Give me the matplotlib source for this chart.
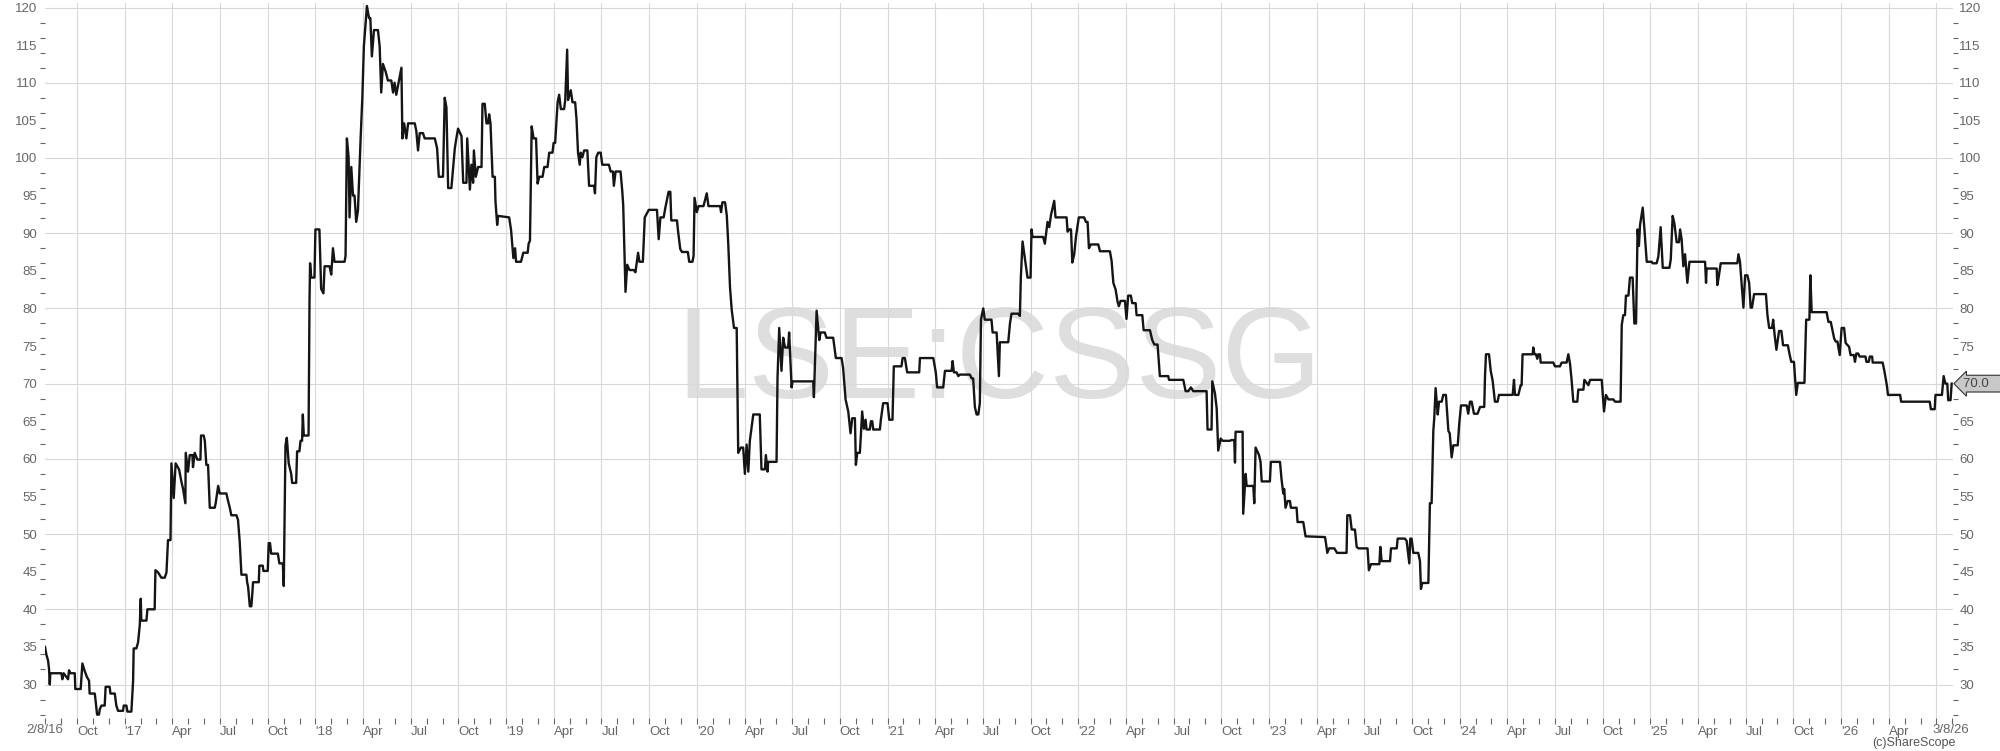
import numpy as np
import matplotlib
matplotlib.use("Agg")
import matplotlib.pyplot as plt
import matplotlib.transforms as mtransforms

# Share price, LSE:CSSG (decimal year, pence)
years = [
    2016.582, 2016.589, 2016.598, 2016.603, 2016.607, 2016.610, 2016.668, 2016.673, 2016.680, 2016.703,
    2016.708, 2016.715, 2016.738, 2016.741, 2016.769, 2016.778, 2016.790, 2016.802, 2016.813, 2016.816,
    2016.843, 2016.848, 2016.855, 2016.865, 2016.869, 2016.878, 2016.895, 2016.900, 2016.921, 2016.925,
    2016.948, 2016.956, 2016.965, 2016.991, 2016.995, 2017.009, 2017.014, 2017.035, 2017.044, 2017.047,
    2017.061, 2017.070, 2017.079, 2017.084, 2017.087, 2017.114, 2017.119, 2017.157, 2017.161, 2017.175,
    2017.192, 2017.210, 2017.219, 2017.227, 2017.240, 2017.245, 2017.257, 2017.267, 2017.285, 2017.297,
    2017.306, 2017.318, 2017.320, 2017.332, 2017.341, 2017.355, 2017.358, 2017.367, 2017.381, 2017.397,
    2017.400, 2017.414, 2017.420, 2017.428, 2017.437, 2017.446, 2017.472, 2017.477, 2017.490, 2017.498,
    2017.533, 2017.542, 2017.551, 2017.559, 2017.586, 2017.594, 2017.603, 2017.612, 2017.638, 2017.642,
    2017.647, 2017.656, 2017.664, 2017.668, 2017.673, 2017.703, 2017.706, 2017.724, 2017.727, 2017.750,
    2017.755, 2017.762, 2017.768, 2017.803, 2017.811, 2017.829, 2017.834, 2017.843, 2017.850, 2017.860,
    2017.873, 2017.878, 2017.899, 2017.904, 2017.916, 2017.922, 2017.930, 2017.934, 2017.939, 2017.964,
    2017.969, 2017.972, 2017.978, 2017.995, 2018.000, 2018.021, 2018.030, 2018.042, 2018.048, 2018.074,
    2018.083, 2018.092, 2018.100, 2018.153, 2018.158, 2018.165, 2018.174, 2018.179, 2018.188, 2018.197,
    2018.205, 2018.214, 2018.223, 2018.237, 2018.246, 2018.254, 2018.270, 2018.281, 2018.288, 2018.296,
    2018.307, 2018.328, 2018.337, 2018.345, 2018.354, 2018.368, 2018.380, 2018.398, 2018.407, 2018.415,
    2018.424, 2018.451, 2018.456, 2018.465, 2018.477, 2018.486, 2018.521, 2018.529, 2018.538, 2018.547,
    2018.564, 2018.573, 2018.626, 2018.638, 2018.647, 2018.669, 2018.678, 2018.687, 2018.696, 2018.713,
    2018.731, 2018.739, 2018.748, 2018.766, 2018.775, 2018.792, 2018.796, 2018.810, 2018.818, 2018.827,
    2018.831, 2018.841, 2018.853, 2018.871, 2018.876, 2018.888, 2018.897, 2018.906, 2018.911, 2018.918,
    2018.929, 2018.941, 2018.944, 2018.953, 2018.958, 2019.016, 2019.026, 2019.038, 2019.047, 2019.052,
    2019.078, 2019.090, 2019.113, 2019.118, 2019.125, 2019.134, 2019.144, 2019.157, 2019.165, 2019.174,
    2019.191, 2019.200, 2019.217, 2019.226, 2019.243, 2019.249, 2019.257, 2019.270, 2019.278, 2019.287,
    2019.304, 2019.310, 2019.320, 2019.325, 2019.339, 2019.348, 2019.362, 2019.369, 2019.377, 2019.386,
    2019.391, 2019.400, 2019.409, 2019.426, 2019.435, 2019.461, 2019.466, 2019.473, 2019.483, 2019.496,
    2019.504, 2019.539, 2019.548, 2019.560, 2019.565, 2019.574, 2019.600, 2019.609, 2019.614, 2019.621,
    2019.626, 2019.635, 2019.647, 2019.670, 2019.678, 2019.692, 2019.699, 2019.717, 2019.727, 2019.748,
    2019.791, 2019.800, 2019.809, 2019.826, 2019.835, 2019.852, 2019.861, 2019.866, 2019.896, 2019.901,
    2019.913, 2019.922, 2019.953, 2019.960, 2019.977, 2019.983, 2019.988, 2020.000, 2020.009, 2020.035,
    2020.052, 2020.061, 2020.122, 2020.127, 2020.134, 2020.148, 2020.157, 2020.165, 2020.174, 2020.183,
    2020.195, 2020.209, 2020.214, 2020.217, 2020.231, 2020.243, 2020.252, 2020.261, 2020.270, 2020.278,
    2020.296, 2020.330, 2020.339, 2020.357, 2020.362, 2020.371, 2020.374, 2020.418, 2020.423, 2020.432,
    2020.444, 2020.453, 2020.462, 2020.479, 2020.484, 2020.497, 2020.502, 2020.610, 2020.614, 2020.628,
    2020.642, 2020.649, 2020.671, 2020.680, 2020.715, 2020.729, 2020.759, 2020.767, 2020.780, 2020.794,
    2020.806, 2020.815, 2020.829, 2020.834, 2020.841, 2020.855, 2020.867, 2020.876, 2020.885, 2020.890,
    2020.907, 2020.913, 2020.920, 2020.925, 2020.960, 2020.965, 2020.977, 2021.000, 2021.009, 2021.026,
    2021.033, 2021.073, 2021.079, 2021.091, 2021.103, 2021.166, 2021.170, 2021.240, 2021.253, 2021.260,
    2021.292, 2021.301, 2021.336, 2021.341, 2021.348, 2021.362, 2021.371, 2021.379, 2021.432, 2021.441,
    2021.449, 2021.458, 2021.467, 2021.476, 2021.484, 2021.490, 2021.502, 2021.510, 2021.545, 2021.551,
    2021.572, 2021.584, 2021.589, 2021.633, 2021.642, 2021.650, 2021.685, 2021.694, 2021.699, 2021.708,
    2021.720, 2021.734, 2021.750, 2021.755, 2021.760, 2021.816, 2021.825, 2021.839, 2021.848, 2021.857,
    2021.874, 2021.881, 2021.939, 2021.944, 2021.953, 2021.962, 2021.969, 2021.979, 2021.988, 2022.003,
    2022.031, 2022.040, 2022.049, 2022.056, 2022.066, 2022.105, 2022.114, 2022.166, 2022.175, 2022.184,
    2022.196, 2022.206, 2022.213, 2022.222, 2022.245, 2022.253, 2022.262, 2022.276, 2022.283, 2022.301,
    2022.306, 2022.336, 2022.343, 2022.376, 2022.388, 2022.399, 2022.416, 2022.428, 2022.472, 2022.476,
    2022.551, 2022.563, 2022.577, 2022.591, 2022.603, 2022.673, 2022.678, 2022.699, 2022.703, 2022.717,
    2022.726, 2022.734, 2022.747, 2022.757, 2022.795, 2022.804, 2022.818, 2022.822, 2022.825, 2022.862,
    2022.865, 2022.878, 2022.883, 2022.918, 2022.923, 2022.930, 2022.948, 2022.956, 2022.962, 2023.005,
    2023.010, 2023.058, 2023.066, 2023.075, 2023.080, 2023.087, 2023.098, 2023.110, 2023.115, 2023.145,
    2023.150, 2023.180, 2023.192, 2023.294, 2023.299, 2023.306, 2023.315, 2023.343, 2023.350, 2023.357,
    2023.407, 2023.411, 2023.425, 2023.434, 2023.451, 2023.460, 2023.469, 2023.517, 2023.524, 2023.535,
    2023.579, 2023.584, 2023.591, 2023.635, 2023.640, 2023.670, 2023.675, 2023.713, 2023.722, 2023.736,
    2023.741, 2023.748, 2023.757, 2023.783, 2023.792, 2023.797, 2023.804, 2023.836, 2023.844, 2023.853,
    2023.862, 2023.867, 2023.874, 2023.885, 2023.892, 2023.906, 2023.914, 2023.928, 2023.941, 2023.948,
    2023.958, 2023.967, 2023.990, 2023.998, 2024.007, 2024.037, 2024.045, 2024.054, 2024.063, 2024.075,
    2024.094, 2024.107, 2024.129, 2024.133, 2024.138, 2024.154, 2024.163, 2024.173, 2024.185, 2024.199,
    2024.206, 2024.278, 2024.285, 2024.290, 2024.308, 2024.320, 2024.325, 2024.330, 2024.383, 2024.386,
    2024.392, 2024.400, 2024.407, 2024.413, 2024.421, 2024.425, 2024.491, 2024.500, 2024.526, 2024.535,
    2024.561, 2024.570, 2024.579, 2024.587, 2024.596, 2024.617, 2024.622, 2024.649, 2024.654, 2024.675,
    2024.684, 2024.745, 2024.757, 2024.767, 2024.780, 2024.806, 2024.815, 2024.844, 2024.850, 2024.858,
    2024.867, 2024.872, 2024.885, 2024.893, 2024.907, 2024.916, 2024.925, 2024.928, 2024.933, 2024.940,
    2024.946, 2024.960, 2024.969, 2024.981, 2025.007, 2025.012, 2025.033, 2025.042, 2025.054, 2025.065,
    2025.100, 2025.107, 2025.117, 2025.126, 2025.138, 2025.150, 2025.156, 2025.164, 2025.173, 2025.182,
    2025.194, 2025.205, 2025.287, 2025.292, 2025.295, 2025.348, 2025.351, 2025.358, 2025.369, 2025.456,
    2025.462, 2025.470, 2025.488, 2025.497, 2025.509, 2025.518, 2025.526, 2025.533, 2025.544, 2025.606,
    2025.614, 2025.623, 2025.638, 2025.644, 2025.652, 2025.661, 2025.675, 2025.687, 2025.696, 2025.721,
    2025.730, 2025.739, 2025.753, 2025.765, 2025.773, 2025.808, 2025.817, 2025.834, 2025.839, 2025.846,
    2025.924, 2025.934, 2025.946, 2025.964, 2025.972, 2025.981, 2025.993, 2026.003, 2026.016, 2026.024,
    2026.042, 2026.050, 2026.067, 2026.073, 2026.080, 2026.090, 2026.097, 2026.128, 2026.133, 2026.145,
    2026.151, 2026.163, 2026.166, 2026.218, 2026.227, 2026.240, 2026.246, 2026.310, 2026.315, 2026.465,
    2026.471, 2026.491, 2026.495, 2026.529, 2026.538, 2026.547, 2026.557, 2026.562, 2026.574, 2026.580,
]
price = [
    35.0, 34.0, 33.2, 32.1, 30.0, 31.5, 31.5, 30.7, 31.5, 30.7,
    31.9, 31.5, 31.5, 29.4, 29.4, 32.8, 31.8, 31.0, 30.5, 28.8,
    28.8, 27.7, 26.0, 26.0, 26.7, 27.2, 27.2, 29.7, 29.7, 28.8,
    28.8, 27.2, 26.5, 26.5, 27.2, 27.2, 26.4, 26.4, 30.5, 34.8,
    34.8, 35.6, 37.9, 41.4, 38.5, 38.5, 40.0, 40.0, 45.2, 44.9,
    44.2, 44.2, 44.9, 49.2, 49.2, 59.4, 54.8, 59.4, 58.6, 57.0,
    56.0, 54.1, 60.8, 58.3, 60.5, 60.5, 58.9, 60.8, 59.9, 59.9,
    63.1, 63.1, 62.4, 59.2, 59.2, 53.5, 53.5, 54.1, 56.4, 55.4,
    55.4, 54.4, 53.5, 52.5, 52.5, 51.9, 49.0, 44.6, 44.6, 43.6,
    43.0, 40.4, 40.4, 41.7, 43.6, 43.6, 45.8, 45.8, 45.1, 45.1,
    48.8, 48.8, 47.4, 47.4, 46.1, 46.1, 43.1, 61.8, 62.8, 59.4,
    58.0, 56.8, 56.8, 61.0, 61.0, 62.4, 62.4, 65.9, 63.1, 63.1,
    81.0, 86.0, 84.1, 84.1, 90.5, 90.5, 82.6, 82.0, 85.6, 85.6,
    84.5, 88.0, 86.2, 86.2, 87.0, 102.6, 100.1, 92.1, 98.8, 95.0,
    95.0, 91.5, 93.0, 102.6, 108.0, 114.8, 120.2, 118.6, 118.6, 113.5,
    117.0, 117.0, 114.8, 108.7, 112.5, 111.5, 110.3, 110.3, 108.7, 110.0,
    108.4, 112.0, 102.6, 104.6, 102.6, 104.6, 104.6, 103.6, 101.0, 103.3,
    103.3, 102.6, 102.6, 101.3, 97.5, 97.5, 108.0, 106.7, 96.0, 96.0,
    101.3, 102.6, 103.9, 102.9, 96.7, 96.7, 102.6, 95.8, 99.1, 96.7,
    101.0, 97.5, 98.8, 98.8, 107.2, 107.2, 104.6, 104.6, 105.8, 104.6,
    97.5, 97.5, 94.3, 91.1, 92.3, 92.1, 90.4, 86.7, 88.0, 86.2,
    86.2, 87.4, 87.4, 88.6, 89.0, 104.2, 102.6, 102.6, 96.6, 97.5,
    97.5, 98.8, 98.8, 100.7, 100.7, 102.0, 102.0, 107.4, 108.4, 106.5,
    106.5, 107.7, 114.4, 107.7, 109.0, 107.4, 107.4, 105.2, 100.7, 99.1,
    100.7, 100.1, 101.0, 101.0, 96.3, 96.3, 95.3, 100.1, 100.7, 100.7,
    99.1, 99.1, 98.2, 98.2, 96.3, 98.2, 98.2, 95.6, 93.7, 86.7,
    82.2, 85.8, 85.1, 85.1, 84.8, 87.4, 86.2, 86.2, 92.1, 93.1,
    93.1, 89.2, 92.1, 92.1, 93.4, 95.5, 95.5, 91.7, 91.7, 90.4,
    87.9, 87.5, 87.5, 86.2, 86.2, 87.0, 94.7, 92.8, 93.6, 93.6,
    95.3, 93.6, 93.6, 92.8, 94.1, 94.1, 92.4, 88.5, 82.8, 79.8,
    77.4, 77.4, 66.3, 60.8, 61.5, 61.5, 58.0, 61.9, 58.3, 62.4,
    65.9, 65.9, 58.6, 58.6, 60.5, 58.3, 59.6, 59.6, 70.7, 77.4,
    71.7, 76.1, 74.8, 74.8, 76.8, 69.5, 70.3, 70.3, 68.2, 79.7,
    75.8, 76.8, 76.8, 76.1, 76.1, 73.4, 73.4, 72.1, 67.9, 66.3,
    63.4, 65.4, 65.4, 59.2, 60.8, 60.8, 66.3, 64.0, 65.2, 63.9,
    63.9, 65.0, 65.0, 63.9, 63.9, 65.2, 67.4, 67.4, 65.2, 65.2,
    72.3, 72.3, 73.4, 73.4, 71.5, 71.5, 73.4, 73.4, 71.5, 69.5,
    69.5, 71.7, 71.7, 73.0, 71.5, 71.5, 71.0, 71.2, 71.2, 70.7,
    70.7, 66.9, 65.9, 65.9, 67.4, 78.5, 80.0, 78.5, 78.5, 76.8,
    76.8, 71.0, 75.5, 75.5, 78.0, 79.3, 79.3, 79.0, 84.1, 88.9,
    86.7, 84.1, 84.1, 90.5, 89.5, 89.5, 88.6, 91.5, 90.8, 92.4,
    94.3, 92.1, 92.1, 90.2, 90.5, 90.5, 86.1, 87.2, 89.5, 92.1,
    92.1, 91.5, 91.5, 88.0, 88.5, 88.5, 87.6, 87.6, 86.3, 83.4,
    82.5, 80.9, 80.3, 81.0, 81.0, 78.6, 81.7, 81.7, 80.7, 80.7,
    79.1, 79.1, 77.1, 77.1, 75.8, 75.2, 75.2, 71.0, 71.0, 70.5,
    70.5, 69.0, 69.0, 69.5, 69.0, 69.0, 63.9, 63.9, 70.3, 68.7,
    66.7, 61.1, 62.7, 62.4, 62.4, 62.5, 62.5, 59.5, 63.6, 63.6,
    52.7, 58.0, 56.4, 56.4, 54.1, 61.5, 60.5, 59.6, 57.0, 57.0,
    59.6, 59.6, 57.3, 55.4, 56.0, 53.5, 54.4, 54.4, 53.5, 53.5,
    51.6, 51.6, 49.7, 49.6, 48.8, 47.5, 48.1, 48.1, 47.8, 47.5,
    47.5, 52.5, 52.5, 50.6, 50.6, 48.3, 48.1, 48.1, 45.2, 46.0,
    46.0, 48.3, 46.4, 46.4, 48.1, 48.1, 49.4, 49.4, 49.1, 46.1,
    49.4, 49.4, 47.5, 47.5, 46.4, 42.7, 43.5, 43.5, 54.1, 54.1,
    63.7, 65.5, 69.4, 65.9, 67.6, 67.6, 68.5, 68.5, 63.7, 63.4,
    60.2, 61.8, 61.8, 64.7, 67.1, 67.1, 66.0, 67.6, 67.6, 66.0,
    66.0, 66.9, 66.9, 71.0, 73.9, 73.9, 71.7, 70.4, 67.6, 67.6,
    68.5, 68.5, 70.5, 68.5, 68.5, 69.8, 69.8, 73.9, 73.9, 74.8,
    73.9, 73.9, 73.3, 73.9, 73.9, 72.8, 72.8, 72.3, 72.3, 72.8,
    72.8, 73.9, 72.6, 70.5, 67.6, 67.6, 69.2, 69.2, 70.5, 69.8,
    70.5, 70.5, 66.3, 68.5, 67.9, 67.9, 67.6, 67.6, 77.8, 79.1,
    79.1, 81.7, 81.7, 84.1, 84.1, 78.0, 78.0, 82.8, 90.5, 88.3,
    91.1, 93.4, 90.5, 86.2, 86.2, 86.0, 86.0, 86.9, 90.8, 85.4,
    85.4, 86.5, 92.3, 91.3, 88.8, 88.8, 90.5, 89.2, 85.6, 87.2,
    83.4, 86.2, 86.2, 83.4, 85.3, 85.3, 83.1, 84.1, 86.0, 86.0,
    87.2, 86.2, 80.1, 84.4, 84.4, 83.4, 80.1, 80.1, 81.9, 81.9,
    79.1, 77.4, 77.4, 78.5, 76.4, 74.5, 77.0, 77.0, 75.1, 75.1,
    73.9, 72.9, 72.9, 68.5, 70.1, 70.1, 78.5, 78.5, 84.4, 79.5,
    79.5, 78.2, 78.2, 76.0, 75.6, 75.6, 73.8, 77.4, 77.4, 75.4,
    74.9, 73.8, 73.8, 72.9, 74.0, 74.0, 73.6, 73.6, 72.9, 72.9,
    73.6, 73.6, 72.8, 72.8, 71.7, 69.8, 68.5, 68.5, 67.6, 67.6,
    66.6, 66.6, 68.5, 68.5, 71.0, 70.0, 70.0, 67.8, 67.8, 70.0,
]

x_start, x_end = 2016.582, 2026.587
start_label, end_label = "2/8/16", "3/8/26"
y_labels = np.arange(30, 121, 5)

plt.rcParams['font.family'] = ['Liberation Sans', 'DejaVu Sans']
lab_col = '#666666'
grid_col = '#d8d8d8'

fig = plt.figure(figsize=(20, 7.51), dpi=100)
ax = fig.add_axes([45 / 2000, 33 / 751, (1953 - 45) / 2000, (751 - 33 - 3) / 751])
ylim = (25.55, 120.6)

# watermark
ax.text(0.5, 0.494, "LSE:CSSG", transform=ax.transAxes, ha='center', va='center',
        fontsize=93, color='#dedede', zorder=0)

ax.plot(years, price, color='#151515', lw=1.7, zorder=3)

ax.set_xlim(x_start, x_end)
ax.set_ylim(*ylim)

# quarterly grid + labels, monthly ticks
quarters = [y + q / 4 for y in range(2016, 2027) for q in range(4)]
quarters = [q for q in quarters if x_start < q < x_end]
qlabels = []
for q in quarters:
    frac = round((q % 1) * 4)
    if frac == 0:
        qlabels.append("'" + str(int(round(q)))[2:])
    else:
        qlabels.append(['', 'Apr', 'Jul', 'Oct'][frac])
qlabels[-1] = ''  # end date label takes that space
ax.set_xticks(quarters, qlabels)
for lbl in ax.get_xticklabels():
    lbl.set_ha('left')
months = [y + m / 12 for y in range(2016, 2027) for m in range(12)]
ax.set_xticks([m for m in months if x_start < m < x_end], minor=True)
ax.grid(True, which='major', axis='x', color=grid_col, lw=0.8)
for v in range(30, 121, 10):
    ax.axhline(v, color=grid_col, lw=0.8, zorder=1)

ax.tick_params(axis='x', which='both', direction='out', length=4, width=0.8,
               color=lab_col, labelsize=9.5, labelcolor=lab_col, pad=1.5)

# left axis
ax.set_yticks(y_labels)
ax.set_yticks(np.arange(26, 121, 2), minor=True)
ax.tick_params(axis='y', which='major', length=0, labelsize=9.5, labelcolor=lab_col, pad=5.5)
ax.tick_params(axis='y', which='minor', direction='out', length=3.5, width=0.8, color=lab_col)

# right axis (the price tag hides the 70 label)
ax2 = ax.twinx()
ax2.set_ylim(*ylim)
ax2.set_yticks(y_labels, ['' if v == 70 else str(v) for v in y_labels])
ax2.set_yticks(np.arange(26, 121, 2), minor=True)
ax2.tick_params(axis='y', which='major', length=0, labelsize=9.5, labelcolor=lab_col, pad=4.5)
ax2.tick_params(axis='y', which='minor', direction='out', length=3.5, width=0.8, color=lab_col)

for a in (ax, ax2):
    for s in a.spines.values():
        s.set_visible(False)

# start / end date labels
trans = mtransforms.blended_transform_factory(ax.transData, ax.transAxes)
ax.text(x_start, -0.0085, start_label, transform=trans, ha='center', va='top',
        fontsize=9.5, color=lab_col, clip_on=False)
ax.text(x_end - 0.01, -0.0085, end_label, transform=trans, ha='center', va='top',
        fontsize=9.5, color=lab_col, clip_on=False)

# last price tag
trans_r = mtransforms.blended_transform_factory(ax2.transAxes, ax2.transData)
ax2.text(1.0052, price[-1], f"{price[-1]:.1f}   ", transform=trans_r, ha='left', va='center',
         fontsize=9.5, color='#444444', zorder=10, clip_on=False,
         bbox=dict(boxstyle='larrow,pad=0.18', fc='#c8c8c8', ec='#333333', lw=0.8))

fig.text(1914 / 2000, 1 - 743 / 751, "(c)ShareScope", ha='center', va='center',
         fontsize=9, color='#555555')

fig.savefig('out.png', dpi=100)
